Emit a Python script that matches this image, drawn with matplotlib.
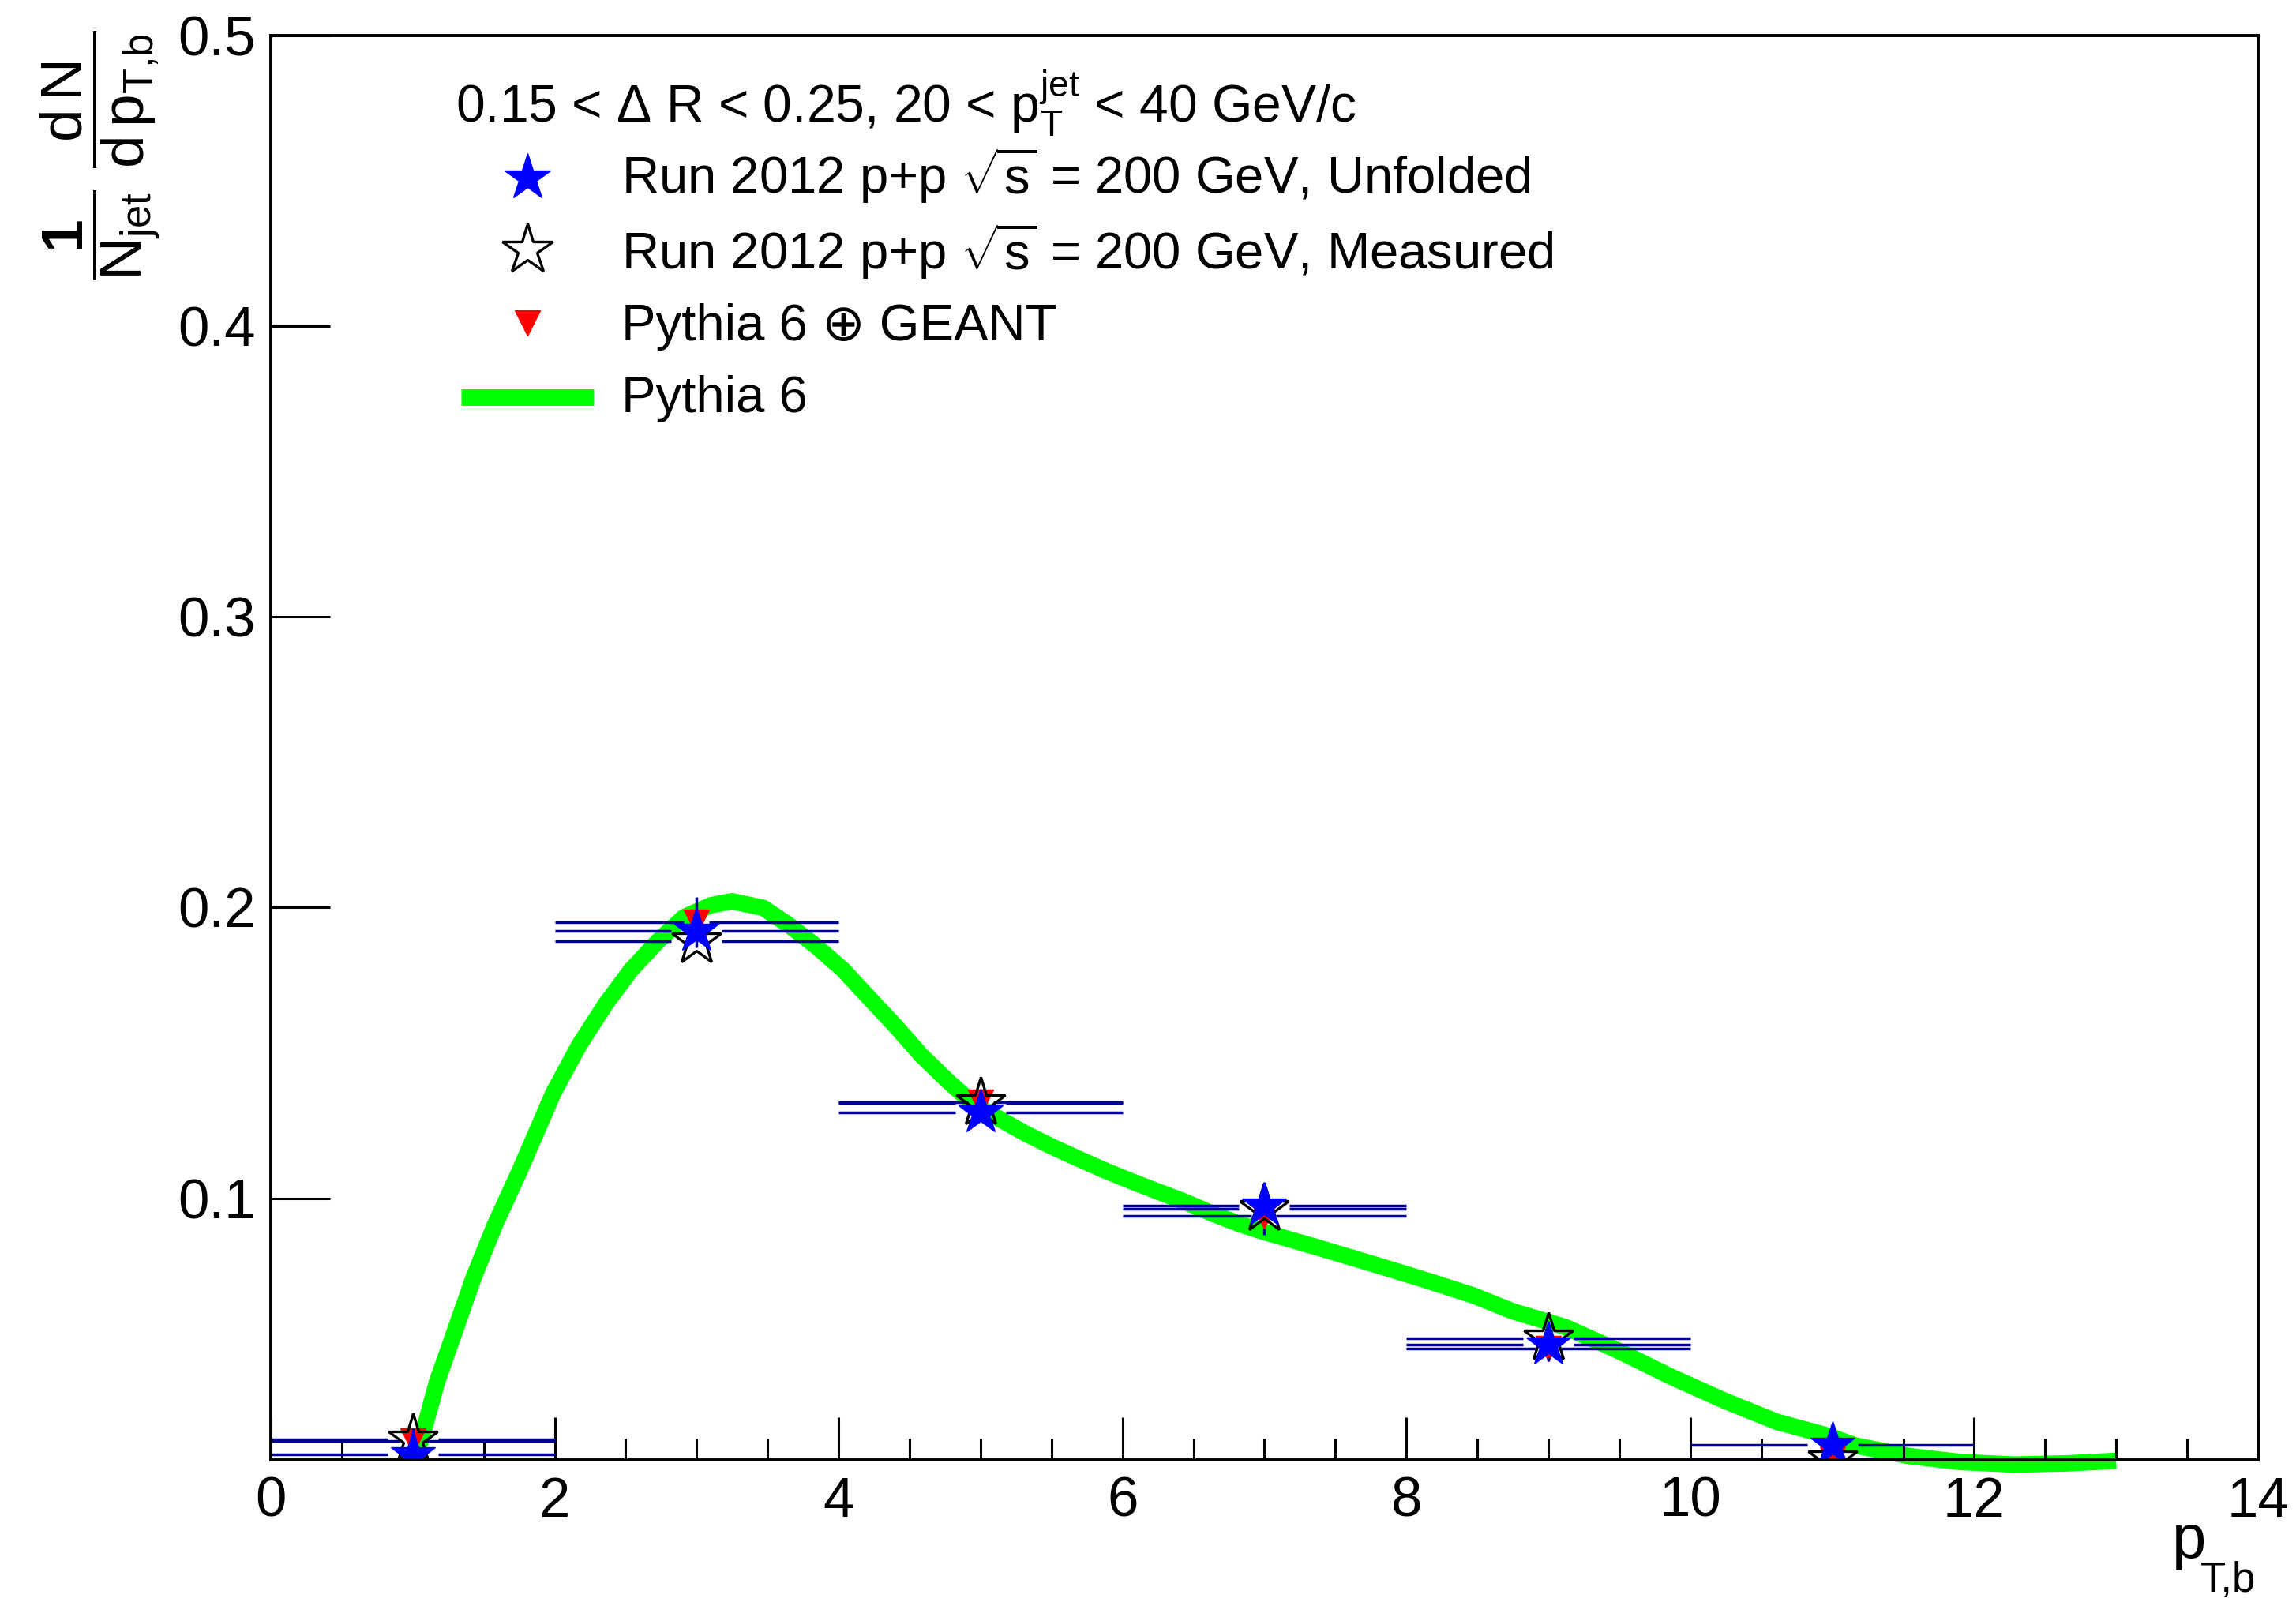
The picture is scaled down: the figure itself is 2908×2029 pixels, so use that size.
import numpy as np
import matplotlib
matplotlib.use('Agg')
import matplotlib.pyplot as plt

plt.rcParams['font.family'] = ['Liberation Sans', 'DejaVu Sans']
plt.rcParams['mathtext.fontset'] = 'custom'
plt.rcParams['mathtext.rm'] = 'Liberation Sans'
plt.rcParams['mathtext.it'] = 'Liberation Sans'
plt.rcParams['mathtext.bf'] = 'Liberation Sans:bold'

# bins in p_T,b
bin_lo = [0, 2, 4, 6, 8, 10]
bin_hi = [2, 4, 6, 8, 10, 12]
bin_center = [1, 3, 5, 7, 9, 11]

# values
unfolded = [0.0118, 0.1919, 0.1296, 0.0975, 0.0496, 0.0152]
measured = [0.0170, 0.1884, 0.1327, 0.0965, 0.0518, 0.0102]
pythia_geant = [0.0166, 0.1951, 0.1331, 0.0940, 0.0482, 0.0104]
pythia_geant_err = [0.002, 0.0087, 0.003, 0.0065, 0.003, 0.002]

# Pythia 6 smooth curve, read along the green band
pythia_x = [1.0, 1.06, 1.17, 1.30, 1.43, 1.58, 1.75, 1.99, 2.17, 2.36, 2.54, 2.73, 2.91,
            3.10, 3.25, 3.47, 3.65, 3.84, 4.03, 4.21, 4.40, 4.58, 4.77, 4.95, 5.14, 5.32, 5.51,
            5.69, 5.88, 6.06, 6.25, 6.44, 6.62, 6.81, 6.99, 7.36, 7.73, 8.10, 8.47, 8.75, 9.12,
            9.49, 9.87, 10.24, 10.61, 10.98, 11.16, 11.53, 11.90, 12.28, 12.65, 13.0]
pythia_y = [0.011, 0.017, 0.0367, 0.0548, 0.0729, 0.0910, 0.1091, 0.1362, 0.1525, 0.1669,
            0.1787, 0.1886, 0.1967, 0.2008, 0.2022, 0.1999, 0.1940, 0.1868, 0.1787, 0.1692, 0.1593,
            0.1493, 0.1403, 0.1325, 0.1271, 0.1222, 0.1176, 0.1136, 0.1095, 0.1059, 0.1023, 0.0988,
            0.0950, 0.0914, 0.0885, 0.0833, 0.0779, 0.0724, 0.0666, 0.0611, 0.0557, 0.0476, 0.0385,
            0.0304, 0.0231, 0.0182, 0.0150, 0.0114, 0.0093, 0.0084, 0.0088, 0.0097]

x_ticks = [0, 2, 4, 6, 8, 10, 12, 14]
y_ticks = [0.1, 0.2, 0.3, 0.4, 0.5]

navy = '#000099'
green = '#00ff00'

fig = plt.figure(figsize=(29.08, 20.29), dpi=100)
ax = fig.add_axes([0.11795, 0.08871, 0.86554, 0.88911])
ax.set_xlim(0, 14)
ax.set_ylim(0.01, 0.5)

# green Pythia curve (goes below the frame at the end, like the original)
ax.plot(pythia_x, pythia_y, color=green, lw=15, solid_capstyle='butt', solid_joinstyle='round',
        zorder=1.5, clip_on=False)


def xerr_lines(vals, gap, z):
    # horizontal bin-width bars, broken around the marker like ROOT does
    for lo, hi, c, v in zip(bin_lo, bin_hi, bin_center, vals):
        ax.hlines(v, lo, c - gap, color=navy, lw=2.5, zorder=z)
        ax.hlines(v, c + gap, hi, color=navy, lw=2.5, zorder=z)


xerr_lines(pythia_geant, 0.089, 2)
xerr_lines(measured, 0.178, 2)
xerr_lines(unfolded, 0.178, 2)

# vertical error bars of the Pythia 6 + GEANT points
for c, v, e in zip(bin_center, pythia_geant, pythia_geant_err):
    ax.vlines(c, v - e, v - 0.0043, color=navy, lw=2.5, zorder=4.5)
    ax.vlines(c, v + 0.0043, v + e, color=navy, lw=2.5, zorder=4.5)

ax.plot(bin_center, pythia_geant, ls='none', marker='v', ms=23, color='red', mec='red', zorder=3)
ax.plot(bin_center, measured, ls='none', marker='*', ms=47, mfc='none', mec='black', mew=2.4, zorder=4)
ax.plot(bin_center, unfolded, ls='none', marker='*', ms=43, color='blue', mec='blue', zorder=5)

# axes styling, ROOT-like
for s in ax.spines.values():
    s.set_linewidth(2.8)
    s.set_zorder(6)
ax.set_xticks(x_ticks)
ax.set_xticklabels([str(t) for t in x_ticks])
ax.set_xticks(np.arange(0, 14.01, 0.5), minor=True)
ax.set_yticks(y_ticks)
ax.set_yticklabels(['%.1f' % t for t in y_ticks])
ax.tick_params(axis='both', which='both', direction='in', top=False, right=False, width=2.2, labelsize=51)
ax.tick_params(axis='x', which='major', length=39, pad=15)
ax.tick_params(axis='x', which='minor', length=19.5)
ax.tick_params(axis='y', which='major', length=54, pad=14)

# legend, drawn by hand to follow the original placement
ax.text(0.093, 0.939, r'0.15 < Δ R < 0.25, 20 < $\mathrm{p}_{\mathrm{T}}^{\mathrm{jet}}$ < 40 GeV/c',
        transform=ax.transAxes, fontsize=47.5, va='baseline', ha='left')
ax.plot([0.129], [0.900], transform=ax.transAxes, marker='*', ms=44, color='blue', ls='none', clip_on=False)
ax.plot([0.129], [0.850], transform=ax.transAxes, marker='*', ms=48, mfc='none', mec='black', mew=2.4,
        ls='none', clip_on=False)
ax.plot([0.129], [0.798], transform=ax.transAxes, marker='v', ms=23, color='red', ls='none', clip_on=False)
ax.plot([0.0957, 0.1625], [0.746, 0.746], transform=ax.transAxes, color=green, lw=15,
        solid_capstyle='butt', clip_on=False)

labels = [r'Run 2012 p+p $\sqrt{\mathrm{s}}$ = 200 GeV, Unfolded',
          r'Run 2012 p+p $\sqrt{\mathrm{s}}$ = 200 GeV, Measured',
          'Pythia 6 \u2295 GEANT',
          'Pythia 6']
for lab, yb in zip(labels, [0.889, 0.836, 0.786, 0.7356]):
    ax.text(0.1764, yb, lab, transform=ax.transAxes, fontsize=47, va='baseline', ha='left')

# axis titles
fig.text(0.0437, 0.981,
         r'$\dfrac{\mathbf{1}}{\mathrm{N}_{\mathrm{jet}}}\ \dfrac{\mathrm{d\,N}}{\mathrm{d\,p}_{\mathrm{T{,}b}}}$',
         rotation=90, ha='center', va='top', fontsize=54)
fig.text(0.9460, 0.0276, 'p', ha='left', va='baseline', fontsize=56)
fig.text(0.9585, 0.0065, 'T,b', ha='left', va='baseline', fontsize=38)

fig.savefig('out.png', dpi=100)
